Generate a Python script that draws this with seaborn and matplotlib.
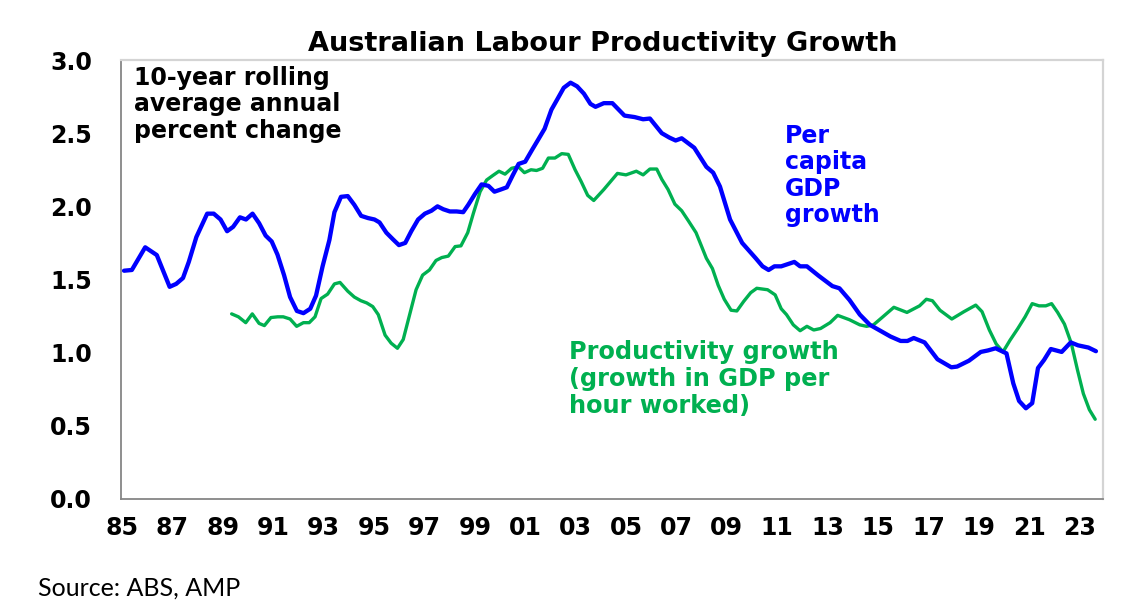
import numpy as np
import pandas as pd
import matplotlib
matplotlib.use("Agg")
import matplotlib.pyplot as plt
import seaborn as sns

# 10-year rolling average annual % change
gdp_years = [1985.08, 1985.39, 1985.92, 1986.38, 1986.89, 1987.15, 1987.42, 1987.65, 1987.95,
             1988.38, 1988.64, 1988.91, 1989.17, 1989.41, 1989.68, 1989.92, 1990.18, 1990.44,
             1990.70, 1990.94, 1991.17, 1991.43, 1991.67, 1991.94, 1992.20, 1992.47, 1992.70,
             1992.96, 1993.23, 1993.43, 1993.69, 1993.96, 1994.22, 1994.49, 1994.76, 1995.02,
             1995.22, 1995.49, 1995.75, 1995.99, 1996.24, 1996.48, 1996.75, 1997.02, 1997.28,
             1997.52, 1997.75, 1998.01, 1998.28, 1998.54, 1998.74, 1999.01, 1999.27, 1999.54,
             1999.78, 2000.03, 2000.27, 2000.50, 2000.74, 2001.00, 2001.27, 2001.53, 2001.77,
             2002.04, 2002.27, 2002.53, 2002.80, 2003.06, 2003.33, 2003.59, 2003.79, 2004.12,
             2004.46, 2004.94, 2005.34, 2005.68, 2005.95, 2006.42, 2006.72, 2006.97, 2007.21,
             2007.71, 2008.19, 2008.46, 2008.73, 2009.13, 2009.61, 2010.15, 2010.42, 2010.66,
             2010.89, 2011.16, 2011.68, 2011.91, 2012.18, 2012.65, 2013.19, 2013.47, 2013.87,
             2014.28, 2014.68, 2015.09, 2015.50, 2015.90, 2016.17, 2016.42, 2016.85, 2017.36,
             2017.91, 2018.14, 2018.61, 2019.08, 2019.36, 2019.67, 2020.10, 2020.37, 2020.60,
             2020.87, 2021.12, 2021.35, 2021.59, 2021.86, 2022.29, 2022.65, 2022.94, 2023.35,
             2023.65]
gdp_growth = [1.56, 1.565, 1.72, 1.667, 1.45, 1.47, 1.51, 1.62, 1.79,
              1.95, 1.95, 1.91, 1.83, 1.86, 1.925, 1.91, 1.95, 1.885,
              1.80, 1.76, 1.67, 1.53, 1.38, 1.285, 1.27, 1.30, 1.39,
              1.59, 1.77, 1.96, 2.065, 2.07, 2.01, 1.935, 1.92, 1.91,
              1.89, 1.82, 1.775, 1.735, 1.75, 1.83, 1.91, 1.95, 1.97,
              2.00, 1.98, 1.965, 1.965, 1.96, 2.01, 2.085, 2.15, 2.14,
              2.10, 2.115, 2.13, 2.21, 2.29, 2.305, 2.385, 2.46, 2.53,
              2.66, 2.73, 2.81, 2.845, 2.82, 2.77, 2.70, 2.68, 2.705,
              2.705, 2.62, 2.61, 2.595, 2.60, 2.50, 2.47, 2.45, 2.465,
              2.40, 2.27, 2.23, 2.135, 1.91, 1.75, 1.645, 1.59, 1.565,
              1.59, 1.59, 1.62, 1.59, 1.59, 1.525, 1.455, 1.44, 1.36,
              1.26, 1.19, 1.15, 1.11, 1.08, 1.08, 1.10, 1.07, 0.955,
              0.90, 0.905, 0.945, 1.005, 1.015, 1.03, 0.995, 0.79, 0.67,
              0.62, 0.655, 0.895, 0.95, 1.025, 1.005, 1.07, 1.05, 1.035,
              1.01]

prod_years = [1989.35, 1989.62, 1989.91, 1990.17, 1990.44, 1990.65, 1990.91, 1991.18, 1991.40,
              1991.67, 1991.93, 1992.20, 1992.43, 1992.66, 1992.90, 1993.16, 1993.43, 1993.65,
              1993.96, 1994.22, 1994.48, 1994.71, 1994.95, 1995.17, 1995.44, 1995.68, 1995.93,
              1996.16, 1996.43, 1996.67, 1996.93, 1997.20, 1997.46, 1997.69, 1997.95, 1998.22,
              1998.45, 1998.72, 1998.94, 1999.21, 1999.47, 1999.71, 1999.96, 2000.20, 2000.46,
              2000.73, 2000.97, 2001.23, 2001.45, 2001.69, 2001.92, 2002.18, 2002.45, 2002.71,
              2002.98, 2003.22, 2003.48, 2003.72, 2004.12, 2004.66, 2005.00, 2005.41, 2005.68,
              2005.95, 2006.22, 2006.42, 2006.67, 2006.94, 2007.21, 2007.48, 2007.78, 2007.98,
              2008.19, 2008.43, 2008.66, 2008.90, 2009.17, 2009.40, 2009.67, 2009.95, 2010.19,
              2010.62, 2010.92, 2011.16, 2011.37, 2011.64, 2011.91, 2012.18, 2012.45, 2012.72,
              2013.10, 2013.40, 2013.87, 2014.28, 2014.55, 2014.82, 2015.16, 2015.63, 2016.15,
              2016.65, 2016.92, 2017.16, 2017.46, 2017.93, 2018.41, 2018.88, 2019.13, 2019.42,
              2019.69, 2019.96, 2020.24, 2020.55, 2020.84, 2021.12, 2021.39, 2021.66, 2021.89,
              2022.13, 2022.40, 2022.67, 2022.92, 2023.15, 2023.39, 2023.62]
prod_growth = [1.265, 1.245, 1.205, 1.265, 1.20, 1.185, 1.24, 1.245, 1.245,
               1.23, 1.18, 1.205, 1.205, 1.245, 1.37, 1.40, 1.47, 1.48,
               1.42, 1.38, 1.355, 1.34, 1.315, 1.26, 1.12, 1.065, 1.03,
               1.09, 1.27, 1.43, 1.53, 1.565, 1.63, 1.65, 1.66, 1.725,
               1.73, 1.82, 1.95, 2.10, 2.18, 2.21, 2.24, 2.22, 2.26,
               2.27, 2.23, 2.25, 2.245, 2.26, 2.33, 2.33, 2.36, 2.355,
               2.25, 2.17, 2.075, 2.04, 2.115, 2.225, 2.215, 2.24, 2.215,
               2.255, 2.255, 2.185, 2.115, 2.015, 1.97, 1.90, 1.82, 1.735,
               1.645, 1.575, 1.46, 1.365, 1.29, 1.285, 1.35, 1.41, 1.44,
               1.43, 1.395, 1.30, 1.26, 1.19, 1.15, 1.18, 1.155, 1.165,
               1.205, 1.255, 1.225, 1.19, 1.18, 1.19, 1.24, 1.31, 1.275,
               1.32, 1.365, 1.355, 1.29, 1.23, 1.28, 1.325, 1.28, 1.155,
               1.06, 1.005, 1.085, 1.165, 1.245, 1.335, 1.32, 1.32, 1.335,
               1.275, 1.195, 1.065, 0.88, 0.72, 0.61, 0.545]

x_ticks = list(range(1985, 2024, 2))
x_labels = [f"{y % 100:02d}" for y in x_ticks]
y_ticks = [0.0, 0.5, 1.0, 1.5, 2.0, 2.5, 3.0]

gdp_df = pd.DataFrame({"year": gdp_years, "value": gdp_growth})
prod_df = pd.DataFrame({"year": prod_years, "value": prod_growth})

sns.set_style("white")
plt.rcParams["font.family"] = ["DejaVu Sans"]
plt.rcParams["text.color"] = "black"
plt.rcParams["xtick.color"] = "black"
plt.rcParams["ytick.color"] = "black"
plt.rcParams["axes.labelcolor"] = "black"

W, H = 1146, 613
fig = plt.figure(figsize=(W / 100, H / 100), dpi=100)
ax = fig.add_axes([121 / W, 1 - 499 / H, (1103 - 121) / W, (499 - 60) / H])

blue = "#0000FF"
green = "#00B050"

sns.lineplot(data=prod_df, x="year", y="value", ax=ax, color=green, linewidth=2.4)
sns.lineplot(data=gdp_df, x="year", y="value", ax=ax, color=blue, linewidth=3.1)

ax.set_xlim(1984.96, 2023.93)
ax.set_ylim(0, 3.0)
ax.set_xticks(x_ticks)
ax.set_xticklabels(x_labels)
ax.set_yticks(y_ticks)
ax.set_yticklabels([f"{v:.1f}" for v in y_ticks])
ax.set_xlabel("")
ax.set_ylabel("")
ax.tick_params(axis="both", length=0, labelsize=17, colors="black")
ax.tick_params(axis="y", pad=21)
ax.tick_params(axis="x", pad=12)
for lab in ax.get_xticklabels() + ax.get_yticklabels():
    lab.set_fontweight("bold")

for side in ["left", "bottom"]:
    ax.spines[side].set_color("#868686")
    ax.spines[side].set_linewidth(1.3)
for side in ["top", "right"]:
    ax.spines[side].set_color("#D4D4D4")
    ax.spines[side].set_linewidth(1.6)

def fx(px):
    return px / W

def fy(py):
    return 1 - py / H

fig.text(fx(603), fy(31), "Australian Labour Productivity Growth", ha="center", va="top",
         fontsize=19.5, fontweight="bold", color="black")
fig.text(fx(134), fy(66), "10-year rolling\naverage annual\npercent change", ha="left", va="top",
         fontsize=17, fontweight="bold", color="black", linespacing=1.12)
fig.text(fx(785), fy(124), "Per\ncapita\nGDP\ngrowth", ha="left", va="top",
         fontsize=17, fontweight="bold", color=blue, linespacing=1.12)
fig.text(fx(569), fy(340), "Productivity growth\n(growth in GDP per\nhour worked)", ha="left", va="top",
         fontsize=17.3, fontweight="bold", color=green, linespacing=1.15)
fig.text(fx(38), fy(577), "Source: ABS, AMP", ha="left", va="top", fontsize=18,
         family=["Lato", "DejaVu Sans"], color="black")

fig.savefig("out.png", dpi=100)
